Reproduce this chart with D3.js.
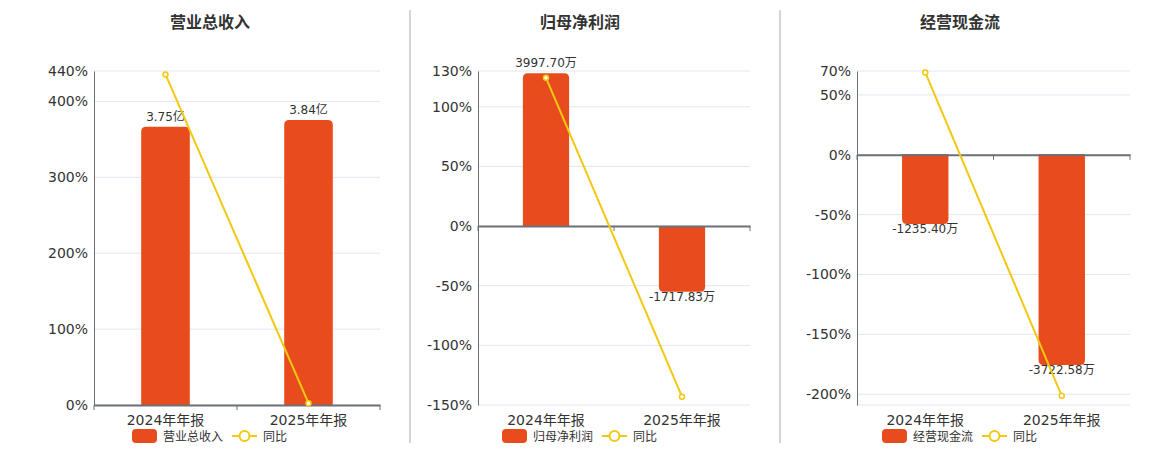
<!DOCTYPE html>
<html>
<head>
<meta charset="utf-8">
<script src="https://cdn.jsdelivr.net/npm/d3@7"></script>
<style>
  body { margin: 0; background: #fff; }
  svg { font-family: "DejaVu Sans", "Noto Sans CJK SC", sans-serif; }
</style>
</head>
<body>
<script>
// data
var categories = ['2024年年报', '2025年年报'];

var revenueValues = [3.75, 3.84];          // 亿
var revenueLabels = ['3.75亿', '3.84亿'];
var revenueYoY = [435.5, 2.4];
var revenueTicks = [0, 100, 200, 300, 400, 440];

var profitValues = [3997.70, -1717.83];    // 万
var profitLabels = ['3997.70万', '-1717.83万'];
var profitYoY = [124.3, -143.0];
var profitTicks = [-150, -100, -50, 0, 50, 100, 130];

var cashValues = [-1235.40, -3722.58];     // 万
var cashLabels = ['-1235.40万', '-3722.58万'];
var cashYoY = [68.8, -201.3];
var cashTicks = [-200, -150, -100, -50, 0, 50, 70];

var barColor = '#e84c1c', lineColor = '#f2c811';

var svg = d3.select('body').append('svg').attr('width', 1160).attr('height', 450);

var panels = [
  {title: '营业总收入', values: revenueValues, labels: revenueLabels, yoy: revenueYoY, ticks: revenueTicks,
   pctDomain: [0, 440], barDomain: [0, 4.5], left: 94, right: 380, center: 210},
  {title: '归母净利润', values: profitValues, labels: profitLabels, yoy: profitYoY, ticks: profitTicks,
   pctDomain: [-150, 130], barDomain: [-4684, 4059], left: 478, right: 750, center: 580},
  {title: '经营现金流', values: cashValues, labels: cashLabels, yoy: cashYoY, ticks: cashTicks,
   pctDomain: [-209, 70], barDomain: [-4427, 1464], left: 857, right: 1130, center: 960}
];

var plotTop = 71, plotBottom = 405;

// dividers
[410, 780].forEach(function(x) {
  svg.append('line').attr('x1', x).attr('x2', x).attr('y1', 10).attr('y2', 443)
    .attr('stroke', '#aaa').attr('stroke-width', 1);
});

// bar path with rounded far end
function barPath(x, w, y0, y1, r) {
  var h = Math.abs(y1 - y0);
  r = Math.min(r, h, w / 2);
  if (y1 < y0) {
    return 'M' + x + ',' + y0 + 'V' + (y1 + r) + 'Q' + x + ',' + y1 + ' ' + (x + r) + ',' + y1 +
      'H' + (x + w - r) + 'Q' + (x + w) + ',' + y1 + ' ' + (x + w) + ',' + (y1 + r) + 'V' + y0 + 'Z';
  }
  return 'M' + x + ',' + y0 + 'V' + (y1 - r) + 'Q' + x + ',' + y1 + ' ' + (x + r) + ',' + y1 +
    'H' + (x + w - r) + 'Q' + (x + w) + ',' + y1 + ' ' + (x + w) + ',' + (y1 - r) + 'V' + y0 + 'Z';
}

panels.forEach(function(p) {
  var g = svg.append('g');

  var x = d3.scaleBand().domain(categories).range([p.left, p.right]);
  var yPct = d3.scaleLinear().domain(p.pctDomain).range([plotBottom, plotTop]);
  var yBar = d3.scaleLinear().domain(p.barDomain).range([plotBottom, plotTop]);
  var zeroY = yPct(0);

  // title
  g.append('text').attr('x', p.center).attr('y', 28).attr('text-anchor', 'middle')
    .attr('font-size', 16).attr('font-weight', 'bold').attr('fill', '#333').text(p.title);

  // grid lines
  var gridVals = p.ticks.slice();
  if (p.pctDomain[0] < gridVals[0]) gridVals.unshift(p.pctDomain[0]);
  g.selectAll('line.grid').data(gridVals).enter().append('line')
    .attr('class', 'grid')
    .attr('x1', p.left).attr('x2', p.right)
    .attr('y1', function(d) { return yPct(d); }).attr('y2', function(d) { return yPct(d); })
    .attr('stroke', '#e0e6f1').attr('stroke-width', 1);

  // y axis
  var yAxis = g.append('g').attr('transform', 'translate(' + p.left + ',0)')
    .call(d3.axisLeft(yPct).tickValues(p.ticks).tickSize(0).tickPadding(6)
      .tickFormat(function(d) { return d + '%'; }));
  yAxis.select('.domain').attr('stroke', '#6e7079');
  yAxis.selectAll('text').attr('font-size', 14).attr('fill', '#333')
    .attr('font-family', '"DejaVu Sans", sans-serif');

  // bars
  var bw = x.bandwidth() * 0.34;
  g.selectAll('path.bar').data(p.values).enter().append('path')
    .attr('class', 'bar')
    .attr('fill', barColor)
    .attr('d', function(d, i) {
      var bx = x(categories[i]) + (x.bandwidth() - bw) / 2;
      return barPath(bx, bw, yBar(0), yBar(d), 5);
    });

  // bar labels
  g.selectAll('text.blabel').data(p.values).enter().append('text')
    .attr('class', 'blabel')
    .attr('x', function(d, i) { return x(categories[i]) + x.bandwidth() / 2; })
    .attr('y', function(d) { return d >= 0 ? yBar(d) - 6 : yBar(d) + 9; })
    .attr('text-anchor', 'middle').attr('font-size', 12).attr('fill', '#333')
    .text(function(d, i) { return p.labels[i]; });

  // x axis at zero
  var xAxis = g.append('g').attr('transform', 'translate(0,' + zeroY + ')')
    .call(d3.axisBottom(x).tickSize(0).tickFormat(''));
  xAxis.select('.domain').attr('stroke', '#6e7079').attr('stroke-width', 2);
  var bounds = [p.left, p.left + x.bandwidth(), p.right];
  g.selectAll('line.xtick').data(bounds).enter().append('line')
    .attr('class', 'xtick')
    .attr('x1', function(d) { return d; }).attr('x2', function(d) { return d; })
    .attr('y1', zeroY).attr('y2', zeroY + 5)
    .attr('stroke', '#6e7079');

  // category labels at bottom
  g.selectAll('text.xlabel').data(categories).enter().append('text')
    .attr('class', 'xlabel')
    .attr('x', function(d) { return x(d) + x.bandwidth() / 2; })
    .attr('y', 425).attr('text-anchor', 'middle')
    .attr('font-size', 14).attr('fill', '#333').text(function(d) { return d; });

  // yoy line
  var line = d3.line()
    .x(function(d, i) { return x(categories[i]) + x.bandwidth() / 2; })
    .y(function(d) { return yPct(d); });
  g.append('path').attr('d', line(p.yoy))
    .attr('fill', 'none').attr('stroke', lineColor).attr('stroke-width', 2);
  g.selectAll('circle.pt').data(p.yoy).enter().append('circle')
    .attr('class', 'pt')
    .attr('cx', function(d, i) { return x(categories[i]) + x.bandwidth() / 2; })
    .attr('cy', function(d) { return yPct(d); })
    .attr('r', 2.5).attr('fill', '#fff').attr('stroke', lineColor).attr('stroke-width', 1.5);

  // legend
  var lg = g.append('g').attr('transform', 'translate(' + (p.center - 78) + ',429)');
  lg.append('rect').attr('width', 25).attr('height', 14).attr('rx', 4).attr('fill', barColor);
  lg.append('text').attr('x', 31).attr('y', 12).attr('font-size', 12).attr('fill', '#333').text(p.title);
  lg.append('line').attr('x1', 100).attr('x2', 125).attr('y1', 7).attr('y2', 7)
    .attr('stroke', lineColor).attr('stroke-width', 2);
  lg.append('circle').attr('cx', 112.5).attr('cy', 7).attr('r', 5)
    .attr('fill', '#fff').attr('stroke', lineColor).attr('stroke-width', 2);
  lg.append('text').attr('x', 131).attr('y', 12).attr('font-size', 12).attr('fill', '#333').text('同比');
});
</script>
</body>
</html>
